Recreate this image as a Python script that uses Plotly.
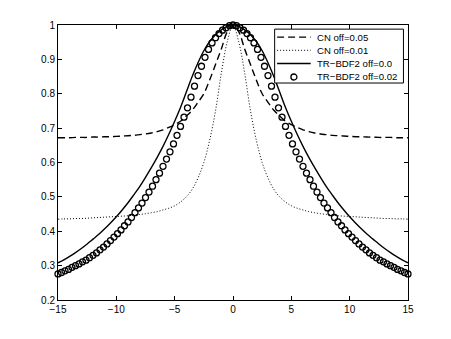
import plotly.graph_objects as go

# values
# lines sampled every 0.5 from -15 to 15, circles every 0.3 from -15 to 15
cn_005 = [.672, .672, .672, .673, .673, .673, .674, .674, .675, .675, .676, .677, .678, .679, .681,
          .683, .686, .69, .695, .702, .71, .72, .735, .752, .775, .80, .84, .885, .93, .98,
          1.0,
          .98, .93, .885, .84, .80, .775, .752, .735, .72, .71, .702, .695, .69, .686, .683,
          .681, .679, .678, .677, .676, .675, .675, .674, .674, .673, .673, .673, .672, .672, .672]

cn_001 = [.435, .436, .436, .437, .437, .438, .439, .44, .441, .442, .443, .444, .445, .447, .449,
          .451, .454, .457, .462, .467, .474, .485, .50, .522, .555, .60, .665, .75, .86, .95,
          1.0,
          .95, .86, .75, .665, .60, .555, .522, .50, .485, .474, .467, .462, .457, .454, .451,
          .449, .447, .445, .444, .443, .442, .441, .44, .439, .438, .437, .437, .436, .436, .435]

trbdf2_0 = [.308, .317, .327, .338, .35, .363, .377, .391, .407, .424, .442, .462, .483, .506, .53,
            .557, .585, .615, .647, .682, .72, .76, .805, .85, .89, .925, .952, .972, .986, .996,
            1.0,
            .996, .986, .972, .952, .925, .89, .85, .805, .76, .72, .682, .647, .615, .585, .557,
            .53, .506, .483, .462, .442, .424, .407, .391, .377, .363, .35, .338, .327, .317, .308]

trbdf2_002 = [.276, .280, .285, .289, .295, .300, .305, .311, .316, .323, .330, .337, .346, .354,
              .363, .373, .383, .393, .404, .416, .427, .440, .454, .468, .482, .498, .514, .531,
              .550, .569, .589, .610, .631, .654, .679, .705, .732, .759, .790, .822, .853, .880,
              .906, .929, .948, .963, .975, .985, .992, .998,
              1.0,
              .998, .992, .985, .975, .963, .948, .929, .906, .880, .853, .822, .790, .759, .732,
              .705, .679, .654, .631, .610, .589, .569, .550, .531, .514, .498, .482, .468, .454,
              .440, .427, .416, .404, .393, .383, .373, .363, .354, .346, .337, .330, .323, .316,
              .311, .305, .300, .295, .289, .285, .280, .276]

names = ['CN off=0.05', 'CN off=0.01', 'TR\u2212BDF2 off=0.0', 'TR\u2212BDF2 off=0.02']
x_ticks = [-15, -10, -5, 0, 5, 10, 15]
y_ticks = [0.2, 0.3, 0.4, 0.5, 0.6, 0.7, 0.8, 0.9, 1]

FONT = dict(family='Liberation Sans', size=10, color='black')
LEG_FONT = dict(family='Liberation Sans', size=9.6, color='black')
dashes = ['7px,4px', '1px,2px', 'solid', None]
widths = [1.4, 1, 1.4, None]

fig = go.Figure()
for ys, dash, w, nm in zip([cn_005, cn_001, trbdf2_0], dashes, widths, names):
    fig.add_trace(go.Scatter(y=ys, x0=-15, dx=0.5, mode='lines', name=nm, showlegend=False,
                             line=dict(color='black', width=w, dash=dash, shape='spline'),
                             cliponaxis=False))
fig.add_trace(go.Scatter(y=trbdf2_002, x0=-15, dx=0.3, mode='markers', name=names[3],
                         showlegend=False,
                         marker=dict(symbol='circle-open', size=6, color='black',
                                     line=dict(width=1.3, color='black')),
                         cliponaxis=False))

axis_style = dict(showline=True, linecolor='black', linewidth=1, mirror='ticks',
                  ticks='inside', ticklen=4, tickwidth=1, tickcolor='black',
                  showgrid=False, zeroline=False, tickfont=FONT)

fig.update_xaxes(range=[-15, 15], tickvals=x_ticks, **axis_style)
fig.update_yaxes(range=[0.2, 1], tickvals=y_ticks, **axis_style)

# matlab style legend box (compact rows), drawn in plot-area paper coords
box_x0, box_x1, box_y0, box_y1 = 0.619, 0.987, 0.789, 0.985
row_y = [0.956, 0.908, 0.860, 0.811]
samp_x0, samp_x1, text_x = 0.626, 0.722, 0.735

shapes = [dict(type='rect', xref='paper', yref='paper', x0=box_x0, x1=box_x1,
               y0=box_y0, y1=box_y1, line=dict(color='black', width=1),
               fillcolor='white', layer='above')]
for i in range(3):
    shapes.append(dict(type='line', xref='paper', yref='paper', x0=samp_x0, x1=samp_x1,
                       y0=row_y[i], y1=row_y[i], layer='above',
                       line=dict(color='black', width=widths[i], dash=dashes[i])))
shapes.append(dict(type='circle', xref='paper', yref='paper', xsizemode='pixel',
                   ysizemode='pixel', xanchor=(samp_x0 + samp_x1) / 2, yanchor=row_y[3],
                   x0=-3, x1=3, y0=-3, y1=3, layer='above',
                   line=dict(color='black', width=1.3)))

annotations = [dict(text=nm, xref='paper', yref='paper', x=text_x, y=yy,
                    xanchor='left', yanchor='middle', showarrow=False, font=LEG_FONT)
               for nm, yy in zip(names, row_y)]

# page body adds 8px offset, so margins are shifted to land the axes where the reference has them
fig.update_layout(
    width=451, height=339,
    margin=dict(l=50, r=51, t=17, b=47),
    paper_bgcolor='white', plot_bgcolor='white',
    font=FONT,
    showlegend=False,
    shapes=shapes,
    annotations=annotations,
)

fig.write_html("out.html")
